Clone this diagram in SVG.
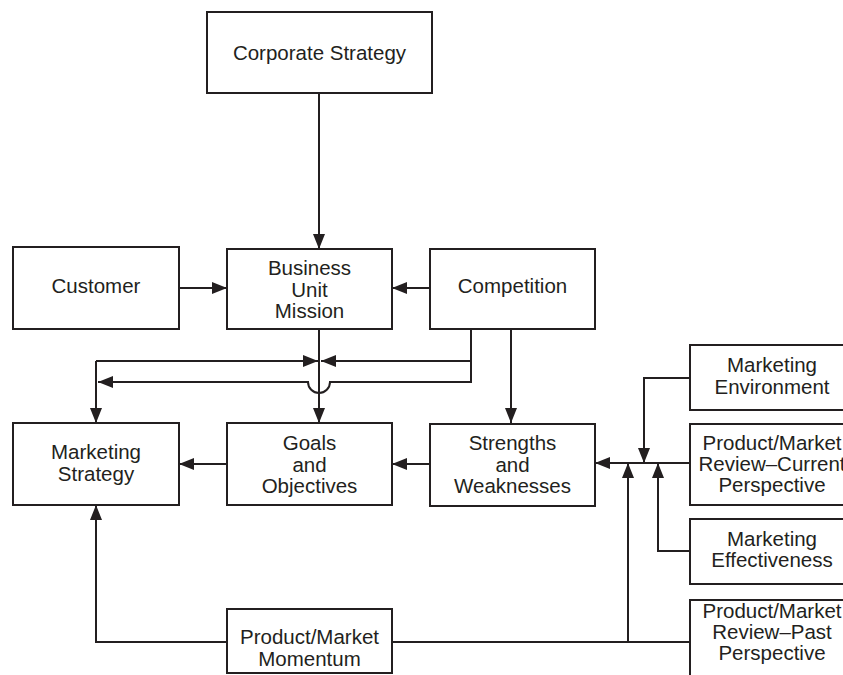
<svg xmlns="http://www.w3.org/2000/svg" width="843" height="675" viewBox="0 0 843 675">
<style>
.box{fill:#fff;stroke:#231f20;stroke-width:2}
.ln{fill:none;stroke:#231f20;stroke-width:2}
.ar{marker-end:url(#ah)}
text{font-family:"Liberation Sans",Arial,Helvetica,sans-serif;font-size:20.5px;fill:#231f20;text-anchor:middle}
</style>
<defs>
<marker id="ah" markerUnits="userSpaceOnUse" markerWidth="15" markerHeight="12" refX="15" refY="6" orient="auto" viewBox="0 0 15 12">
<path d="M0,0 L15,6 L0,12 z" fill="#231f20"/>
</marker>
</defs>
<rect width="843" height="675" fill="#fff"/>
<g id="connectors">
<path class="ln ar" d="M319,93 L319,249"/>
<path class="ln ar" d="M179,288 L227,288"/>
<path class="ln ar" d="M430,288 L392,288"/>
<path class="ln ar" d="M319,329 L319,423"/>
<path class="ln ar" d="M96,361 L318,361"/>
<path class="ln ar" d="M96,361 L96,423"/>
<path class="ln ar" d="M471,329 L471,361 L321,361"/>
<path class="ln ar" d="M471,361 L471,382 L330,382 A11,11 0 0 1 308,382 L98,382"/>
<path class="ln ar" d="M511,329 L511,423"/>
<path class="ln ar" d="M227,464 L179,464"/>
<path class="ln ar" d="M430,464 L392,464"/>
<path class="ln ar" d="M690,463 L595,463"/>
<path class="ln ar" d="M690,378 L644,378 L644,463"/>
<path class="ln ar" d="M690,551 L658,551 L658,463"/>
<path class="ln" d="M690,642 L392,642"/>
<path class="ln ar" d="M628,642 L628,463"/>
<path class="ln ar" d="M227,642 L96,642 L96,505"/>
</g>
<g id="corporate-strategy">
<rect class="box" x="207" y="12" width="225" height="81"/>
<text x="319.5" y="60">Corporate Strategy</text>
</g>
<g id="customer">
<rect class="box" x="13" y="247" width="166" height="82"/>
<text x="96" y="293">Customer</text>
</g>
<g id="business-unit-mission">
<rect class="box" x="227" y="249" width="165" height="80"/>
<text x="309.5" y="275">Business</text>
<text x="309.5" y="297">Unit</text>
<text x="309.5" y="318">Mission</text>
</g>
<g id="competition">
<rect class="box" x="430" y="249" width="165" height="80"/>
<text x="512.5" y="293">Competition</text>
</g>
<g id="marketing-strategy">
<rect class="box" x="13" y="423" width="166" height="82"/>
<text x="96" y="459">Marketing</text>
<text x="96" y="481">Strategy</text>
</g>
<g id="goals-objectives">
<rect class="box" x="227" y="423" width="165" height="82"/>
<text x="309.5" y="450">Goals</text>
<text x="309.5" y="472">and</text>
<text x="309.5" y="493">Objectives</text>
</g>
<g id="strengths-weaknesses">
<rect class="box" x="430" y="424" width="165" height="82"/>
<text x="512.5" y="450">Strengths</text>
<text x="512.5" y="472">and</text>
<text x="512.5" y="493">Weaknesses</text>
</g>
<g id="marketing-environment">
<rect class="box" x="690" y="345" width="170" height="65"/>
<text x="772" y="372">Marketing</text>
<text x="772" y="394">Environment</text>
</g>
<g id="review-current">
<rect class="box" x="690" y="424" width="170" height="81"/>
<text x="772" y="450">Product/Market</text>
<text x="772" y="471">Review–Current</text>
<text x="772" y="492">Perspective</text>
</g>
<g id="marketing-effectiveness">
<rect class="box" x="690" y="519" width="170" height="65"/>
<text x="772" y="546">Marketing</text>
<text x="772" y="567">Effectiveness</text>
</g>
<g id="review-past">
<rect class="box" x="690" y="600" width="170" height="90"/>
<text x="772" y="618">Product/Market</text>
<text x="772" y="639">Review–Past</text>
<text x="772" y="660">Perspective</text>
</g>
<g id="momentum">
<rect class="box" x="227" y="609" width="165" height="64"/>
<text x="309.5" y="644">Product/Market</text>
<text x="309.5" y="666">Momentum</text>
</g>
</svg>
